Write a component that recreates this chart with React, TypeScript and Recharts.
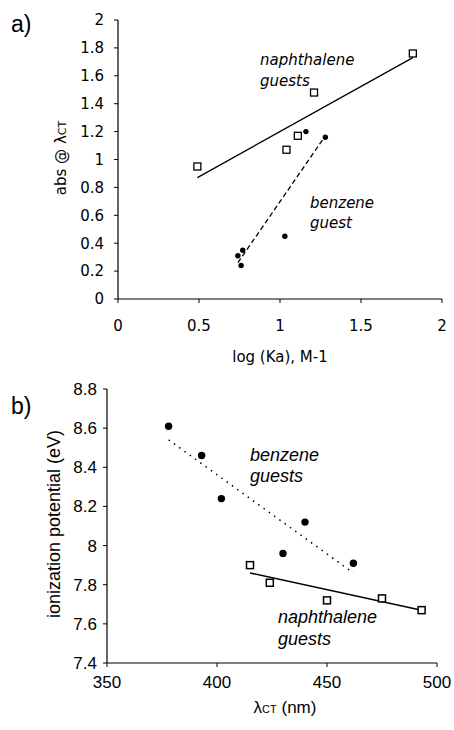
import React from 'react';
import { ScatterChart, Scatter, XAxis, YAxis } from 'recharts';

// ---------- Panel a: absorbance vs log(Ka) ----------
const logKaTicks = [0, 0.5, 1, 1.5, 2];
const absTicks = [0, 0.2, 0.4, 0.6, 0.8, 1, 1.2, 1.4, 1.6, 1.8, 2];

const naphLogKa = [0.49, 1.04, 1.11, 1.21, 1.82];
const naphAbs = [0.95, 1.07, 1.17, 1.48, 1.76];
const benzLogKa = [0.74, 0.76, 0.77, 1.03, 1.16, 1.28];
const benzAbs = [0.31, 0.24, 0.35, 0.45, 1.2, 1.16];

// trend line end points
const naphFitLogKa = [0.49, 1.82];
const naphFitAbs = [0.87, 1.73];
const benzFitLogKa = [0.74, 1.28];
const benzFitAbs = [0.26, 1.17];

// ---------- Panel b: ionization potential vs lambda CT ----------
const wlTicks = [350, 400, 450, 500];
const ipTicks = [7.4, 7.6, 7.8, 8, 8.2, 8.4, 8.6, 8.8];

const benzWl = [378, 393, 402, 430, 440, 462];
const benzIp = [8.61, 8.46, 8.24, 7.96, 8.12, 7.91];
const naphWl = [415, 424, 450, 475, 493];
const naphIp = [7.9, 7.81, 7.72, 7.73, 7.67];

const benzFitWl = [378, 462];
const benzFitIp = [8.54, 7.86];
const naphFitWl = [415, 493];
const naphFitIp = [7.86, 7.67];

const pts = (xs: number[], ys: number[]) => xs.map((x, i) => ({ x, y: ys[i] }));

const FONT_A = "'DejaVu Sans', Verdana, sans-serif";
const FONT_B = "'Liberation Sans', Arial, sans-serif";

const makeSquare = (s: number, sw: number) => (props: any) => {
  const { cx, cy } = props;
  if (cx == null || cy == null) return <g />;
  return <rect x={cx - s / 2} y={cy - s / 2} width={s} height={s} fill="#fff" stroke="#000" strokeWidth={sw} />;
};
const makeDot = (r: number) => (props: any) => {
  const { cx, cy } = props;
  if (cx == null || cy == null) return <g />;
  return <circle cx={cx} cy={cy} r={r} fill="#000" />;
};
const NoShape = () => <g />;

export default function App() {
  const tickA = { fill: '#000', fontSize: 15, fontFamily: FONT_A };
  const tickB = { fill: '#000', fontSize: 17, fontFamily: FONT_B };
  return (
    <div style={{ position: 'absolute', left: 0, top: 0, width: 454, height: 730, background: '#fff' }}>
      <div style={{ position: 'absolute', left: 0, top: 0 }}>
        <ScatterChart width={454} height={345} margin={{ top: 20, right: 12, bottom: 0, left: 0 }}>
          <XAxis
            type="number"
            dataKey="x"
            domain={[0, 2]}
            ticks={logKaTicks}
            tick={tickA}
            tickSize={4}
            tickMargin={17}
            height={46}
            axisLine={{ stroke: '#000', strokeWidth: 1.2 }}
            tickLine={{ stroke: '#000' }}
            tickFormatter={(v: number) => String(v)}
          />
          <YAxis
            type="number"
            dataKey="y"
            domain={[0, 2]}
            ticks={absTicks}
            tick={tickA}
            tickSize={4}
            tickMargin={10}
            width={118}
            axisLine={{ stroke: '#000', strokeWidth: 1.2 }}
            tickLine={{ stroke: '#000' }}
            tickFormatter={(v: number) => String(v)}
          />
          <Scatter data={pts(naphFitLogKa, naphFitAbs)} line={{ stroke: '#000', strokeWidth: 1.3 }} shape={NoShape} isAnimationActive={false} />
          <Scatter data={pts(benzFitLogKa, benzFitAbs)} line={{ stroke: '#000', strokeWidth: 1.3, strokeDasharray: '5 3' }} shape={NoShape} isAnimationActive={false} />
          <Scatter data={pts(naphLogKa, naphAbs)} shape={makeSquare(7, 1.3)} isAnimationActive={false} />
          <Scatter data={pts(benzLogKa, benzAbs)} shape={makeDot(2.7)} isAnimationActive={false} />
        </ScatterChart>
      </div>
      <div style={{ position: 'absolute', left: 0, top: 345 }}>
        <ScatterChart width={454} height={385} margin={{ top: 44, right: 17, bottom: 0, left: 0 }}>
          <XAxis
            type="number"
            dataKey="x"
            domain={[350, 500]}
            ticks={wlTicks}
            tick={tickB}
            tickSize={4}
            tickMargin={9}
            height={67}
            axisLine={{ stroke: '#000', strokeWidth: 1.2 }}
            tickLine={{ stroke: '#000' }}
          />
          <YAxis
            type="number"
            dataKey="y"
            domain={[7.4, 8.8]}
            ticks={ipTicks}
            tick={tickB}
            tickSize={4}
            tickMargin={6}
            width={107}
            axisLine={{ stroke: '#000', strokeWidth: 1.2 }}
            tickLine={{ stroke: '#000' }}
            tickFormatter={(v: number) => String(v)}
          />
          <Scatter data={pts(benzFitWl, benzFitIp)} line={{ stroke: '#000', strokeWidth: 1.5, strokeDasharray: '1.5 5' }} shape={NoShape} isAnimationActive={false} />
          <Scatter data={pts(naphFitWl, naphFitIp)} line={{ stroke: '#000', strokeWidth: 1.5 }} shape={NoShape} isAnimationActive={false} />
          <Scatter data={pts(benzWl, benzIp)} shape={makeDot(3.7)} isAnimationActive={false} />
          <Scatter data={pts(naphWl, naphIp)} shape={makeSquare(7, 1.5)} isAnimationActive={false} />
        </ScatterChart>
      </div>
      <svg width={454} height={730} style={{ position: 'absolute', left: 0, top: 0, pointerEvents: 'none' }}>
        {/* panel a */}
        <text x={11} y={32} fontFamily={FONT_B} fontSize={23} fill="#000">a)</text>
        <text x={260} y={65} fontFamily={FONT_A} fontStyle="italic" fontSize={15} fill="#000">naphthalene</text>
        <text x={260} y={86} fontFamily={FONT_A} fontStyle="italic" fontSize={15} fill="#000">guests</text>
        <text x={310} y={208} fontFamily={FONT_A} fontStyle="italic" fontSize={15} fill="#000">benzene</text>
        <text x={310} y={228} fontFamily={FONT_A} fontStyle="italic" fontSize={15} fill="#000">guest</text>
        <text x={66} y={158} transform="rotate(-90 66 158)" textAnchor="middle" fontFamily={FONT_A} fontSize={15} fill="#000">
          abs @ λ<tspan fontSize={11}>CT</tspan>
        </text>
        <text x={280} y={362} textAnchor="middle" fontFamily={FONT_A} fontSize={15} fill="#000">log (Ka), M-1</text>
        {/* panel b */}
        <text x={11} y={414} fontFamily={FONT_B} fontSize={23} fill="#000">b)</text>
        <text x={250} y={461} fontFamily={FONT_B} fontStyle="italic" fontSize={18} fill="#000">benzene</text>
        <text x={250} y={482} fontFamily={FONT_B} fontStyle="italic" fontSize={18} fill="#000">guests</text>
        <text x={278} y={623} fontFamily={FONT_B} fontStyle="italic" fontSize={18} fill="#000">naphthalene</text>
        <text x={278} y={645} fontFamily={FONT_B} fontStyle="italic" fontSize={18} fill="#000">guests</text>
        <text x={60} y={524} transform="rotate(-90 60 524)" textAnchor="middle" fontFamily={FONT_B} fontSize={18} fill="#000">ionization potential (eV)</text>
        <text x={285} y={713} textAnchor="middle" fontFamily={FONT_B} fontSize={17} fill="#000">
          λ<tspan fontSize={11}>CT</tspan> (nm)
        </text>
      </svg>
    </div>
  );
}
